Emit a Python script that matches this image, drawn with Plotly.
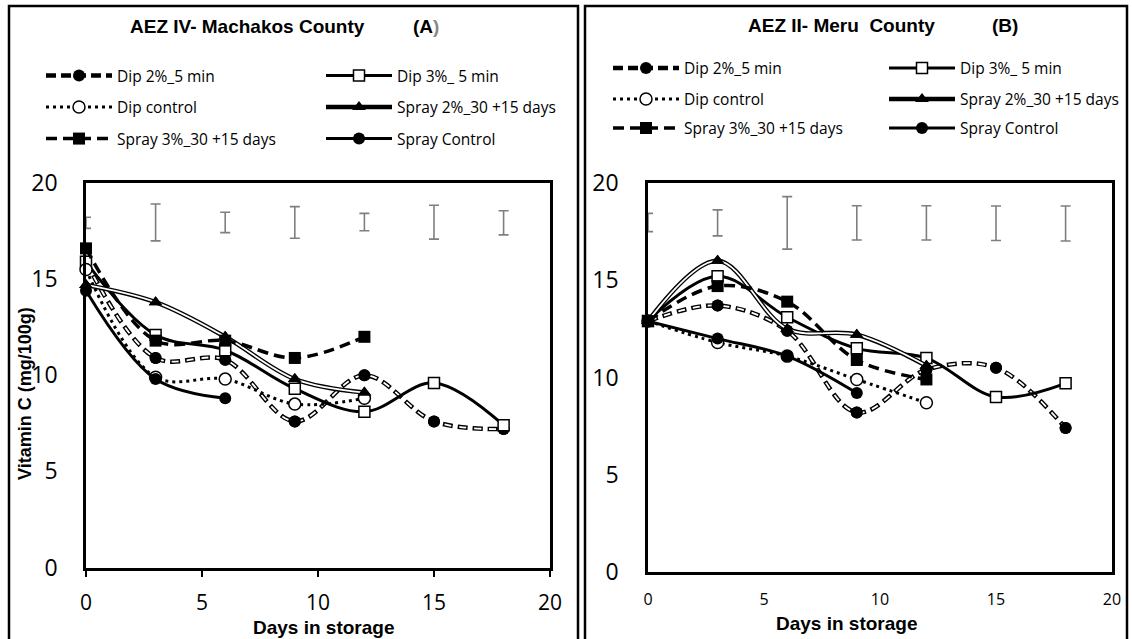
import plotly.graph_objects as go

W, H = 1132, 639

# ---------------- data ----------------
days = [0, 3, 6, 9, 12, 15, 18]
names = ["Dip 2%_5 min", "Dip 3%_ 5 min", "Dip control",
         "Spray 2%_30 +15 days", "Spray 3%_30 +15 days", "Spray Control"]

# Panel A - AEZ IV Machakos County
a_dip2 = [15.9, 10.9, 10.8, 7.6, 10.0, 7.6, 7.2]
a_dip3 = [15.9, 12.1, 11.3, 9.3, 8.1, 9.6, 7.4]
a_dipc = [15.5, 9.9, 9.8, 8.5, 8.8]
a_spr2 = [14.7, 13.8, 12.0, 9.8, 9.1]
a_spr3 = [16.6, 11.8, 11.8, 10.9, 12.0]
a_sprc = [14.4, 9.8, 8.8]
a_err_mid = [17.93, 17.95, 17.95, 17.95, 17.97, 17.96, 17.93]
a_err = [0.29, 0.96, 0.53, 0.82, 0.45, 0.88, 0.63]

# Panel B - AEZ II Meru County
b_dip2 = [12.9, 13.7, 12.4, 8.2, 10.4, 10.5, 7.4]
b_dip3 = [12.9, 15.2, 13.1, 11.5, 11.0, 9.0, 9.7]
b_dipc = [12.9, 11.8, 11.1, 9.9, 8.7]
b_spr2 = [12.9, 16.0, 12.5, 12.2, 10.6]
b_spr3 = [12.9, 14.7, 13.9, 10.9, 9.9]
b_sprc = [12.9, 12.0, 11.1, 9.2]
b_err_mid = [17.97, 17.95, 17.95, 17.95, 17.95, 17.93, 17.92]
b_err = [0.47, 0.67, 1.35, 0.88, 0.88, 0.89, 0.90]

y_ticks = [0, 5, 10, 15, 20]
x_ticks = [0, 5, 10, 15, 20]

# ---------------- helpers ----------------
def px(x):
    return x / W


def py(y):
    return 1 - y / H


TICKFONT = "Open Sans"
BOLD = "Liberation Sans"

styles = [
    dict(line=dict(color="black", width=4.5, dash="10px,5px"),
         inner=dict(color="white", width=1.8, dash="0px,1.5px,7px,6.5px"),
         marker=dict(symbol="circle", size=12, color="black")),
    dict(line=dict(color="black", width=3),
         inner=None,
         marker=dict(symbol="square", size=11, color="white",
                     line=dict(color="black", width=1.5))),
    dict(line=dict(color="black", width=3, dash="3px,4px"),
         inner=None,
         marker=dict(symbol="circle", size=12, color="white",
                     line=dict(color="black", width=1.5))),
    dict(line=dict(color="black", width=4.5),
         inner=dict(color="white", width=1.8),
         marker=dict(symbol="triangle-up", size=12, color="black")),
    dict(line=dict(color="black", width=3.5, dash="11px,6px"),
         inner=None,
         marker=dict(symbol="square", size=12, color="black")),
    dict(line=dict(color="black", width=3),
         inner=None,
         marker=dict(symbol="circle", size=12, color="black")),
]

fig = go.Figure()


def add_panel(xa, ya, data, legends, err_mid, err):
    # error bars (LSD)
    fig.add_trace(go.Scatter(
        x=days, y=err_mid, mode="markers", xaxis=xa, yaxis=ya,
        marker=dict(size=1, color="rgba(0,0,0,0)"),
        error_y=dict(type="data", array=err, color="#7f7f7f",
                     thickness=1.6, width=5),
        showlegend=False, hoverinfo="skip", cliponaxis=True))
    for i, (nm, yv) in enumerate(zip(names, data)):
        st = styles[i]
        xv = days[:len(yv)]
        lg = legends[i // 2]
        fig.add_trace(go.Scatter(
            x=xv, y=yv, name=nm, mode="lines+markers", xaxis=xa, yaxis=ya,
            line=dict(shape="spline", smoothing=1.0, **st["line"]),
            marker=st["marker"], legend=lg, cliponaxis=False))
        if st["inner"] is not None:
            fig.add_trace(go.Scatter(
                x=xv, y=yv, mode="lines", xaxis=xa, yaxis=ya,
                line=dict(shape="spline", smoothing=1.0, **st["inner"]),
                showlegend=False, hoverinfo="skip", cliponaxis=False))
            fig.add_trace(go.Scatter(
                x=xv, y=yv, mode="markers", xaxis=xa, yaxis=ya,
                marker=st["marker"], showlegend=False, hoverinfo="skip",
                cliponaxis=False))


add_panel("x", "y", [a_dip2, a_dip3, a_dipc, a_spr2, a_spr3, a_sprc],
          ["legend", "legend2", "legend3"], a_err_mid, a_err)
add_panel("x2", "y2", [b_dip2, b_dip3, b_dipc, b_spr2, b_spr3, b_sprc],
          ["legend4", "legend5", "legend6"], b_err_mid, b_err)

axis_common = dict(showline=True, linecolor="black", linewidth=2.5, mirror=True,
                   showgrid=False, zeroline=False, range=[0, 20])

fig.update_layout(
    width=W, height=H,
    margin=dict(l=0, r=0, t=0, b=0, autoexpand=False),
    paper_bgcolor="white", plot_bgcolor="white",
    xaxis=dict(domain=[px(86), px(550)], anchor="y", tickvals=x_ticks,
               ticks="outside", ticklen=7, tickwidth=2, tickcolor="black",
               ticklabelstandoff=8,
               tickfont=dict(family=TICKFONT, size=21, color="black"),
               **axis_common),
    yaxis=dict(domain=[py(567.5), py(183)], anchor="x", tickvals=y_ticks,
               ticks="", ticklabelstandoff=21,
               tickfont=dict(family=TICKFONT, size=23, color="black"),
               **axis_common),
    xaxis2=dict(domain=[px(648), px(1112)], anchor="y2", tickvals=x_ticks,
                ticks="", ticklabelstandoff=11,
                tickfont=dict(family=TICKFONT, size=16, color="black"),
                **axis_common),
    yaxis2=dict(domain=[py(572), py(183)], anchor="x2", tickvals=y_ticks,
                ticks="", ticklabelstandoff=22,
                tickfont=dict(family=TICKFONT, size=23, color="black"),
                **axis_common),
)

leg_common = dict(orientation="h", xanchor="left", yanchor="middle",
                  bgcolor="rgba(0,0,0,0)", borderwidth=0, itemwidth=66,
                  entrywidthmode="pixels",
                  font=dict(family=TICKFONT, size=15.5, color="black"))
rowsA = [76, 107.5, 139]
rowsB = [68.5, 99.5, 128.5]
fig.update_layout(
    legend=dict(x=px(41), y=py(rowsA[0]), entrywidth=199, **leg_common),
    legend2=dict(x=px(41), y=py(rowsA[1]), entrywidth=199, **leg_common),
    legend3=dict(x=px(41), y=py(rowsA[2]), entrywidth=199, **leg_common),
    legend4=dict(x=px(608), y=py(rowsB[0]), entrywidth=195, **leg_common),
    legend5=dict(x=px(608), y=py(rowsB[1]), entrywidth=195, **leg_common),
    legend6=dict(x=px(608), y=py(rowsB[2]), entrywidth=195, **leg_common),
)

# frames around the two panels
fig.add_shape(type="rect", xref="paper", yref="paper",
              x0=px(9), x1=px(578), y0=-0.05, y1=py(6),
              line=dict(color="black", width=2.5), fillcolor="rgba(0,0,0,0)")
fig.add_shape(type="rect", xref="paper", yref="paper",
              x0=px(585), x1=px(1127), y0=-0.05, y1=py(6),
              line=dict(color="black", width=2.5), fillcolor="rgba(0,0,0,0)")

ann = []
# titles
ann.append(dict(text="<b>AEZ IV- Machakos County</b>", x=px(128), y=py(27),
                xanchor="left", yanchor="middle",
                font=dict(family=BOLD, size=19, color="black")))
ann.append(dict(text="<b>(A<span style='color:#888888'>)</span></b>", x=px(411), y=py(27),
                xanchor="left", yanchor="middle",
                font=dict(family=BOLD, size=19, color="black")))
ann.append(dict(text="<b>AEZ II- Meru\u00a0 County</b>", x=px(746), y=py(25),
                xanchor="left", yanchor="middle",
                font=dict(family=BOLD, size=19, color="black")))
ann.append(dict(text="<b>(B)</b>", x=px(990), y=py(25),
                xanchor="left", yanchor="middle",
                font=dict(family=BOLD, size=19, color="black")))
# axis titles
ann.append(dict(text="<b>Days in storage</b>", x=px(324), y=py(627),
                xanchor="center", yanchor="middle",
                font=dict(family=BOLD, size=19, color="black")))
ann.append(dict(text="<b>Days in storage</b>", x=px(847), y=py(623),
                xanchor="center", yanchor="middle",
                font=dict(family=BOLD, size=19, color="black")))
ann.append(dict(text="<b>Vitamin C (mg/100g)</b>", x=px(25), y=py(394),
                xanchor="center", yanchor="middle", textangle=-90,
                font=dict(family=BOLD, size=18, color="black")))
for a in ann:
    a.update(xref="paper", yref="paper", showarrow=False)
fig.update_layout(annotations=ann)

fig.write_html("out.html", config={"displayModeBar": False},
               post_script="document.body.style.margin='0px';")
